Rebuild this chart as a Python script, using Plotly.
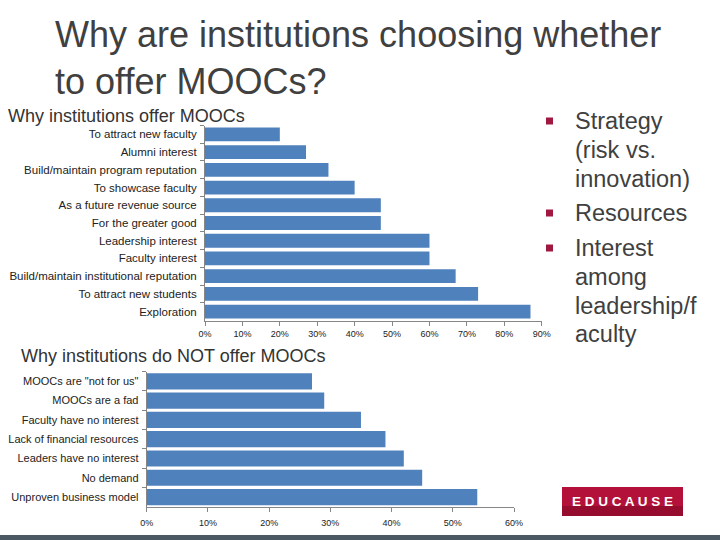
import plotly.graph_objects as go

# ---- data ----
offer_reasons = [
    "To attract new faculty",
    "Alumni interest",
    "Build/maintain program reputation",
    "To showcase faculty",
    "As a future revenue source",
    "For the greater good",
    "Leadership interest",
    "Faculty interest",
    "Build/maintain institutional reputation",
    "To attract new students",
    "Exploration",
]
offer_values = [20, 27, 33, 40, 47, 47, 60, 60, 67, 73, 87]

not_offer_reasons = [
    'MOOCs are "not for us"',
    "MOOCs are a fad",
    "Faculty have no interest",
    "Lack of financial resources",
    "Leaders have no interest",
    "No demand",
    "Unproven business model",
]
not_offer_values = [27, 29, 35, 39, 42, 45, 54]

bullet_lines = [
    ["Strategy", "(risk vs.", "innovation)"],
    ["Resources"],
    ["Interest", "among", "leadership/f", "aculty"],
]

title_lines = "Why are institutions choosing whether<br>to offer MOOCs?"
sub1 = "Why institutions offer MOOCs"
sub2 = "Why institutions do NOT offer MOOCs"

BAR = "#4f81bd"
AX = "#868686"
TXT = "#404040"
W, H = 720, 540

fig = go.Figure()
fig.add_trace(go.Bar(y=offer_reasons, x=offer_values, orientation="h",
                     marker=dict(color=BAR, line=dict(width=0)), width=0.78,
                     xaxis="x", yaxis="y", showlegend=False, hoverinfo="x+y"))
fig.add_trace(go.Bar(y=not_offer_reasons, x=not_offer_values, orientation="h",
                     marker=dict(color=BAR, line=dict(width=0)), width=0.84,
                     xaxis="x2", yaxis="y2", showlegend=False, hoverinfo="x+y"))

def px(x):
    return x / W

def py(y):
    return 1 - y / H

common_x = dict(showgrid=False, zeroline=False, showline=True, linecolor=AX, linewidth=1,
                ticks="outside", tickcolor=AX, ticklen=4, ticksuffix="%", dtick=10,
                automargin=False,
                tickfont=dict(family="Liberation Sans", size=9, color="#222"), fixedrange=True)
common_y = dict(showgrid=False, zeroline=False, showline=True, linecolor=AX, linewidth=1,
                ticks="outside", tickcolor=AX, ticklen=4, tickson="boundaries",
                autorange="reversed", type="category", automargin=False,
                ticklabelstandoff=5, fixedrange=True)

fig.update_layout(
    width=W, height=H,
    margin=dict(l=0, r=0, t=0, b=0, autoexpand=False),
    paper_bgcolor="white", plot_bgcolor="white",
    xaxis=dict(domain=[px(205), px(541.7)], range=[0, 90], anchor="y",
               ticklabelstandoff=1, **common_x),
    yaxis=dict(domain=[py(320.5), py(125.5)], anchor="x",
               tickfont=dict(family="Liberation Sans", size=11.5, color="#222"), **common_y),
    xaxis2=dict(domain=[px(146.7), px(514)], range=[0, 60], anchor="y2",
                ticklabelstandoff=3, **common_x),
    yaxis2=dict(domain=[py(506.7), py(371.7)], anchor="x2",
                tickfont=dict(family="Liberation Sans", size=11, color="#222"), **common_y),
)

ann = []
ann.append(dict(text=title_lines, x=px(53), y=py(12), xref="paper", yref="paper",
                xanchor="left", yanchor="top", showarrow=False, align="left",
                font=dict(family="Liberation Sans", size=36, color=TXT)))
ann.append(dict(text=sub1, x=px(6), y=py(116), xref="paper", yref="paper",
                xanchor="left", yanchor="middle", showarrow=False,
                font=dict(family="Liberation Sans", size=18, color="#333")))
ann.append(dict(text=sub2, x=px(19), y=py(356), xref="paper", yref="paper",
                xanchor="left", yanchor="middle", showarrow=False,
                font=dict(family="Liberation Sans", size=18, color="#333")))

group_starts = [121, 213, 248]
line_step = 28.8
for lines, y0 in zip(bullet_lines, group_starts):
    for i, line in enumerate(lines):
        ann.append(dict(text=line, x=px(573), y=py(y0 + i * line_step), xref="paper", yref="paper",
                        xanchor="left", yanchor="middle", showarrow=False, align="left",
                        font=dict(family="Liberation Sans", size=23.5, color=TXT)))

ann.append(dict(text="<b>E D U C A U S E</b>", x=px(622.5), y=py(501.5), xref="paper", yref="paper",
                xanchor="center", yanchor="middle", showarrow=False,
                font=dict(family="Liberation Sans", size=13.5, color="white")))

shapes = []
for by in group_starts:
    shapes.append(dict(type="rect", xref="paper", yref="paper",
                       x0=px(546), x1=px(553), y0=py(by + 3.5), y1=py(by - 3.5),
                       fillcolor="#a01840", line=dict(width=0)))
# logo
shapes.append(dict(type="rect", xref="paper", yref="paper", x0=px(562), x1=px(683),
                   y0=py(516), y1=py(487), fillcolor="#b3113a", line=dict(width=0), layer="below"))
shapes.append(dict(type="rect", xref="paper", yref="paper", x0=px(562), x1=px(683),
                   y0=py(516), y1=py(506), fillcolor="#960c2e", line=dict(width=0), layer="below"))
# bottom band
shapes.append(dict(type="rect", xref="paper", yref="paper", x0=0, x1=1,
                   y0=0, y1=py(535), fillcolor="#4a5963", line=dict(width=0)))

fig.update_layout(annotations=ann, shapes=shapes)
fig.write_html("out.html", config={"displayModeBar": False},
               post_script="document.body.style.margin='0';")
